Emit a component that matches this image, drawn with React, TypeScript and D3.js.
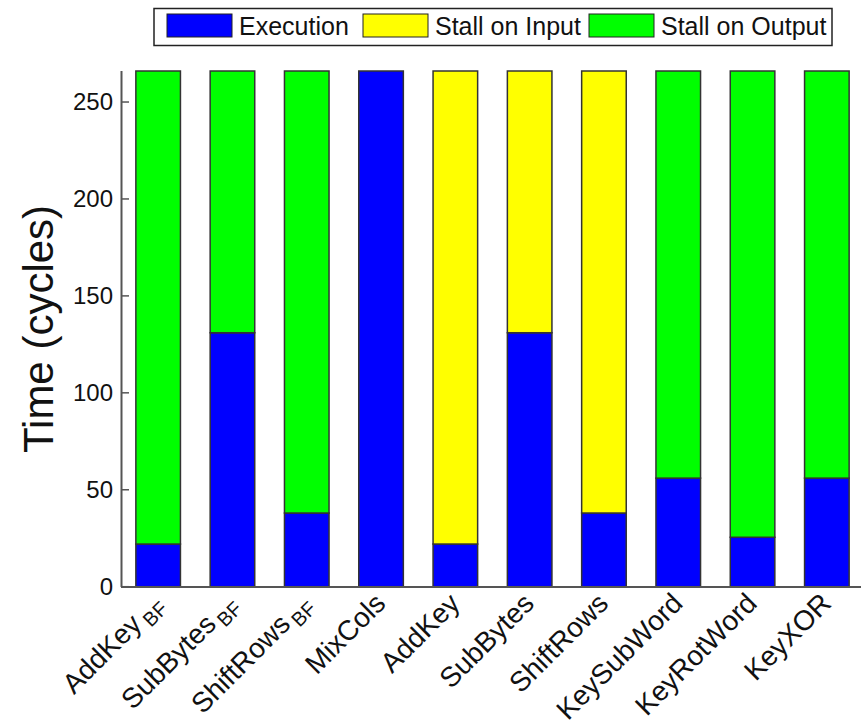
import React from 'react';
import * as d3 from 'd3';

// stage names; sub is the subscript part of the label
const stages = ['AddKeyBF', 'SubBytesBF', 'ShiftRowsBF', 'MixCols', 'AddKey', 'SubBytes', 'ShiftRows', 'KeySubWord', 'KeyRotWord', 'KeyXOR'];
const stageMain = ['AddKey', 'SubBytes', 'ShiftRows', 'MixCols', 'AddKey', 'SubBytes', 'ShiftRows', 'KeySubWord', 'KeyRotWord', 'KeyXOR'];
const stageSub = ['BF', 'BF', 'BF', '', '', '', '', '', '', ''];

const execution = [22, 131, 38, 266, 22, 131, 38, 56, 25.5, 56];
const stallInput = [0, 0, 0, 0, 244, 135, 228, 0, 0, 0];
const stallOutput = [244, 135, 228, 0, 0, 0, 0, 210, 240.5, 210];

const seriesNames = ['Execution', 'Stall on Input', 'Stall on Output'];
const seriesColors = ['#0000ff', '#ffff00', '#00ff00'];
const yTicks = [0, 50, 100, 150, 200, 250];

const W = 861;
const H = 725;
const font = '"Liberation Sans", Arial, sans-serif';

export default function App() {
  const x = d3.scaleBand().domain(stages).range([121, 864]).paddingInner(0.4).paddingOuter(0.2);
  const y = d3.scaleLinear().domain([0, 266]).range([586.7, 71]);

  const rows = stages.map((s, i) => ({
    stage: s,
    exec: execution[i],
    input: stallInput[i],
    output: stallOutput[i],
  }));
  const stack = d3.stack<any>().keys(['exec', 'input', 'output'])(rows);

  const legendX = [167, 363, 589];

  return (
    <svg width={W} height={H} style={{ position: 'absolute', left: 0, top: 0, background: '#fff' }} fontFamily={font}>
      {stack.map((layer, li) => (
        <g key={li} fill={seriesColors[li]} stroke="#333" strokeWidth={1.5}>
          {layer.map((d, i) =>
            d[1] - d[0] > 0 ? (
              <rect key={i} x={x(stages[i])!} width={x.bandwidth()} y={y(d[1])} height={y(d[0]) - y(d[1])} />
            ) : null
          )}
        </g>
      ))}

      {/* axes */}
      <line x1={121.5} x2={121.5} y1={71} y2={587} stroke="#555" strokeWidth={2} />
      <line x1={121} x2={W} y1={587} y2={587} stroke="#555" strokeWidth={2} />
      {yTicks.map((t) => (
        <g key={t}>
          <line x1={121} x2={129} y1={y(t)} y2={y(t)} stroke="#555" strokeWidth={1.5} />
          <text x={113} y={y(t)} dy="0.35em" textAnchor="end" fontSize={24} fill="#111">
            {t}
          </text>
        </g>
      ))}
      <text transform={`translate(42,329) rotate(-90)`} textAnchor="middle" dominantBaseline="middle" fontSize={42} fill="#111">
        Time (cycles)
      </text>

      {stages.map((s, i) => {
        const cx = x(s)! + x.bandwidth() / 2;
        return (
          <text key={s} transform={`translate(${cx + 6},${605}) rotate(-45)`} textAnchor="end" fontSize={28} fill="#111">
            <tspan>{stageMain[i]}</tspan>
            {stageSub[i] ? (
              <tspan fontSize={20} dx={4} dy={7}>
                {stageSub[i]}
              </tspan>
            ) : null}
          </text>
        );
      })}

      {/* legend */}
      <rect x={154} y={8.5} width={678} height={37} fill="#fff" stroke="#222" strokeWidth={1.5} />
      {seriesNames.map((n, i) => (
        <g key={n}>
          <rect x={legendX[i]} y={14} width={65} height={23} fill={seriesColors[i]} stroke="#222" strokeWidth={1} />
          <text x={legendX[i] + 72} y={35} fontSize={25} fill="#111">
            {n}
          </text>
        </g>
      ))}
    </svg>
  );
}
